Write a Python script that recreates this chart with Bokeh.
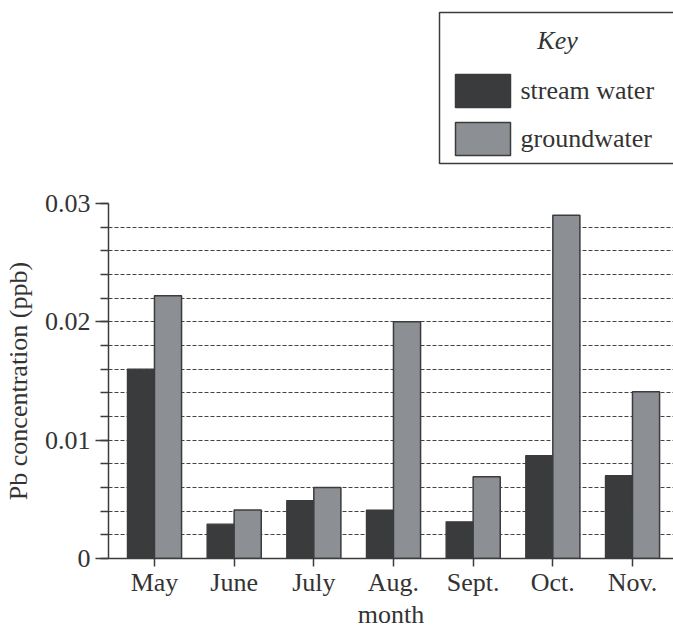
from bokeh.plotting import figure
from bokeh.models import Range1d, FixedTicker, ColumnDataSource
from bokeh.layouts import column
from bokeh.core.properties import value
from bokeh.embed import file_html
from bokeh.resources import INLINE
import numpy as np

months = ["May", "June", "July", "Aug.", "Sept.", "Oct.", "Nov."]
stream_water = [0.016, 0.0029, 0.0049, 0.0041, 0.0031, 0.0087, 0.0070]
groundwater = [0.0222, 0.0041, 0.0060, 0.0200, 0.0069, 0.0290, 0.0141]
y_major_ticks = [0, 0.01, 0.02, 0.03]
y_tick_labels = ["0", "0.01", "0.02", "0.03"]
grid_ticks = [round(0.002 * i, 3) for i in range(1, 16)]
series_names = ["stream water", "groundwater"]

FONT = "Liberation Serif"
FS = "26px"
TXT = "#333333"
DARK = "#3a3b3d"
LIGHT = "#8c8f93"
EDGE = "#3c3c3c"

# layout (page pixels)
W, H = 673, 631
FR_L, FR_R = 108, 673
KEY_H = 190
FR_T, FR_B = 203, 559
x_lo = -0.577
x_hi = x_lo + (FR_R - FR_L) / 79.67

# ---------- key figure (pixel-like ranges) ----------
k = figure(width=W, height=KEY_H, x_range=Range1d(FR_L, FR_R), y_range=Range1d(KEY_H, 0),
           output_backend="svg", toolbar_location=None,
           x_axis_location=None, y_axis_location=None,
           min_border_left=FR_L, min_border_right=0, min_border_top=0, min_border_bottom=0)
k.outline_line_color = None
k.grid.visible = False
k.quad(left=[439], right=[720], top=[12], bottom=[163], fill_color=None,
       line_color=EDGE, line_width=1.5)
k.quad(left=[455], right=[510], top=[74], bottom=[107], fill_color=DARK,
       line_color=DARK, line_width=1.5)
k.quad(left=[455], right=[510], top=[122], bottom=[155], fill_color=LIGHT,
       line_color=EDGE, line_width=1.5)
k.text(x=[557], y=[40], text=["Key"], text_font=value(FONT), text_font_size=value(FS),
       text_font_style="italic", text_color=TXT, text_align="center", text_baseline="middle")
k.text(x=[520, 520], y=[90, 138], text=series_names, text_font=value(FONT),
       text_font_size=value(FS), text_color=TXT, text_align="left", text_baseline="middle")

# ---------- chart ----------
p = figure(width=W, height=H - KEY_H, x_range=Range1d(x_lo, x_hi), y_range=Range1d(0, 0.03),
           output_backend="svg", toolbar_location=None,
           min_border_left=FR_L, min_border_right=0, min_border_top=FR_T - KEY_H,
           min_border_bottom=H - FR_B)
p.outline_line_color = None
p.xgrid.visible = False
p.ygrid.ticker = FixedTicker(ticks=grid_ticks)
p.ygrid.grid_line_color = "#444444"
p.ygrid.grid_line_dash = "4 2"
p.ygrid.grid_line_width = 1.2

idx = np.arange(len(months))
src = ColumnDataSource(dict(xs=idx - 0.17, xg=idx + 0.17, s=stream_water, g=groundwater))
p.vbar(x="xs", top="s", bottom=0, width=0.34, source=src, fill_color=DARK,
       line_color=DARK, line_width=1.2)
p.vbar(x="xg", top="g", bottom=0, width=0.34, source=src, fill_color=LIGHT,
       line_color=EDGE, line_width=1.5)

for ax in (p.xaxis[0], p.yaxis[0]):
    ax.axis_line_color = EDGE
    ax.axis_line_width = 1.5
    ax.major_tick_line_color = EDGE
    ax.major_tick_line_width = 1.5
    ax.minor_tick_line_color = EDGE
    ax.minor_tick_line_width = 1.5
    ax.major_tick_in = 0
    ax.minor_tick_in = 0
    ax.major_label_text_font = FONT
    ax.major_label_text_font_size = FS
    ax.major_label_text_color = TXT
    ax.axis_label_text_font = FONT
    ax.axis_label_text_font_size = FS
    ax.axis_label_text_font_style = "normal"
    ax.axis_label_text_color = TXT

p.xaxis.ticker = FixedTicker(ticks=list(idx), minor_ticks=[])
p.xaxis.major_label_overrides = {int(i): m for i, m in zip(idx, months)}
p.xaxis.major_tick_out = 8
p.xaxis.major_label_standoff = 1
p.xaxis.axis_label = "month"
p.xaxis.axis_label_standoff = 0

p.yaxis.ticker = FixedTicker(ticks=y_major_ticks, minor_ticks=[0.0] + grid_ticks)
p.yaxis.major_label_overrides = {t: l for t, l in zip(y_major_ticks, y_tick_labels)}
p.yaxis.major_tick_out = 13
p.yaxis.minor_tick_out = 8
p.yaxis.major_label_standoff = 5
p.yaxis.axis_label = "Pb concentration (ppb)"
p.yaxis.axis_label_standoff = 9

layout = column(k, p, spacing=0)
open("out.html", "w").write(file_html(layout, INLINE))
